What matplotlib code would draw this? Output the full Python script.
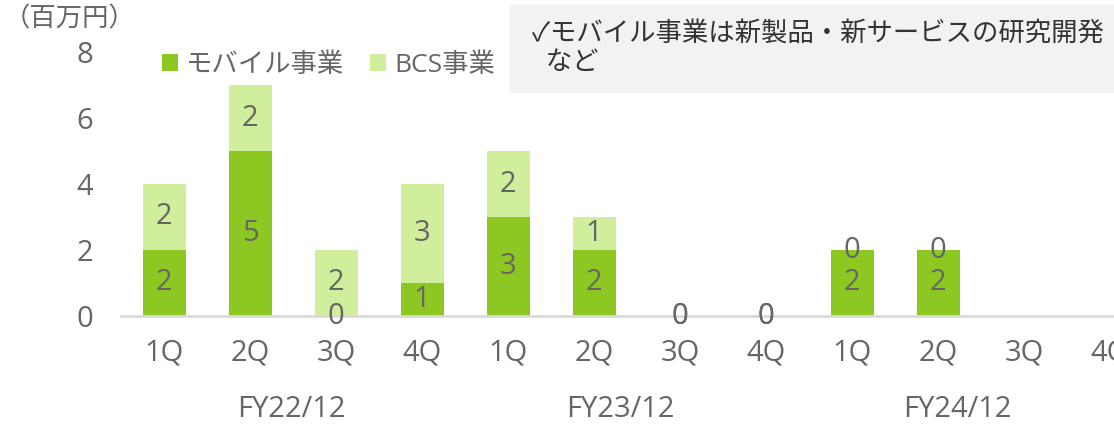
import numpy as np
import matplotlib
matplotlib.use("Agg")
import matplotlib.pyplot as plt

plt.rcParams['font.family'] = ['Open Sans', 'Noto Sans CJK JP', 'DejaVu Sans']

quarters = ['1Q', '2Q', '3Q', '4Q'] * 3
years = ['FY22/12', 'FY23/12', 'FY24/12']
year_pos = [1.48, 5.31, 9.23]
mobile = [2, 5, 0, 1, 3, 2, 0, 0, 2, 2, np.nan, np.nan]
bcs = [2, 2, 2, 3, 2, 1, 0, 0, 0, 0, np.nan, np.nan]
names = ['モバイル事業', 'BCS事業']
note = '✓モバイル事業は新製品・新サービスの研究開発\n  など'

c_dark = '#8CC821'
c_light = '#D0EE9B'
txt = '#666666'
fs = 19      # japanese text
fn = 21      # numbers / latin labels

fig = plt.figure(figsize=(11.14, 4.25), dpi=100)
ax = fig.add_axes([121 / 1114, 109 / 425, 1032 / 1114, 264 / 425])

x = np.arange(len(quarters))
m = np.array(mobile, dtype=float)
b = np.array(bcs, dtype=float)
b1 = ax.bar(x, m, 0.5, color=c_dark, label=names[0])
b2 = ax.bar(x, b, 0.5, bottom=m, color=c_light, label=names[1])

def lab(vals):
    return ['' if np.isnan(v) else f'{v:g}' for v in vals]

ax.bar_label(b1, labels=lab(m), label_type='center', color=txt, fontsize=fn)
ax.bar_label(b2, labels=lab(b), label_type='center', color=txt, fontsize=fn)

ax.set_xlim(-0.5, 11.5)
ax.set_ylim(0, 8)
ax.set_yticks([0, 2, 4, 6, 8])
ax.set_xticks(x)
ax.set_xticklabels(quarters)
ax.tick_params(axis='y', length=0, pad=20, labelsize=fn, labelcolor=txt)
ax.tick_params(axis='x', length=0, pad=16, labelsize=fn, labelcolor=txt)
for s in ['top', 'right', 'left']:
    ax.spines[s].set_visible(False)
ax.spines['bottom'].set_color('#D9D9D9')
ax.spines['bottom'].set_linewidth(2)

for yr, p in zip(years, year_pos):
    ax.text(p, -0.356, yr, transform=ax.get_xaxis_transform(), ha='center', va='center',
            fontsize=fn, color=txt)

fig.text(4 / 1114, 1 - 20 / 425, '（百万円）', ha='left', va='center', fontsize=fs, color=txt)

leg = fig.legend(loc='center left', bbox_to_anchor=(138 / 1114, 1 - 65 / 425), ncol=2,
                 frameon=False, fontsize=fs, handlelength=0.6, handleheight=0.6,
                 handletextpad=0.3, columnspacing=1.0, labelcolor=txt)

fig.patches.append(plt.Rectangle((510 / 1114, 1 - 92 / 425), 604 / 1114, 87 / 425,
                                 transform=fig.transFigure, color='#F2F2F2', zorder=0))
fig.text(532 / 1114, 1 - 49 / 425, note, ha='left', va='center', fontsize=fs, color='#333333',
         linespacing=1.25)

fig.savefig('out.png', dpi=100)
